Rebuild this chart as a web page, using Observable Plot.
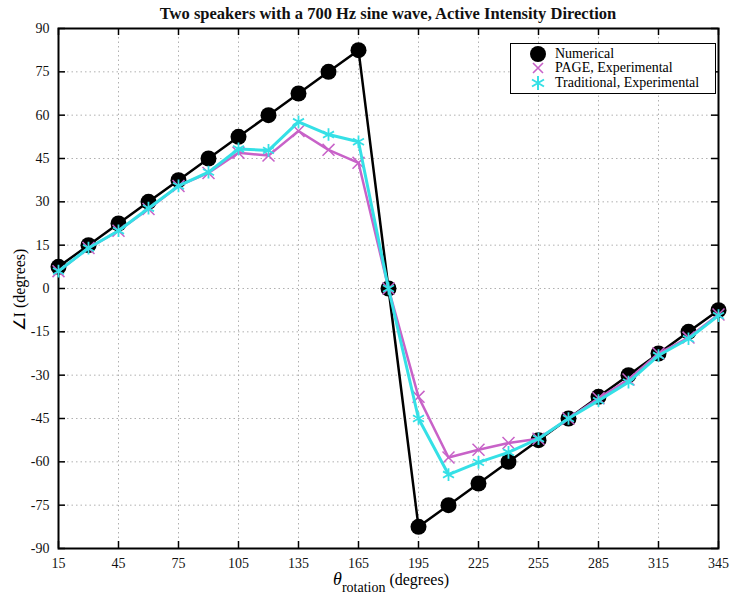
<!DOCTYPE html>
<html><head><meta charset="utf-8">
<script src="https://cdn.jsdelivr.net/npm/d3@7"></script>
<script src="https://cdn.jsdelivr.net/npm/@observablehq/plot@0.6"></script>
<style>
body{margin:0;background:#fff;font-family:"Liberation Serif","Times New Roman",serif;}
#wrap{position:relative;width:730px;height:600px;}
#plot svg text{font-family:"Liberation Serif","Times New Roman",serif !important;font-size:14px !important;fill:#111;}
#title{position:absolute;left:0;top:4px;width:730px;text-align:center;font-weight:bold;font-size:16.5px;color:#111;padding-left:46px;box-sizing:border-box;}
#xlab{position:absolute;left:0;top:569px;width:730px;text-align:center;font-size:16px;padding-left:52px;box-sizing:border-box;line-height:20px;}
#xlab i{font-size:18px;}
#xlab sub{font-size:14px;vertical-align:-7px;line-height:0;}
#ylab{position:absolute;left:19px;top:290px;transform:translate(-50%,-50%) rotate(-90deg);font-size:16px;white-space:nowrap;}
#legend{position:absolute;left:510px;top:43px;width:204px;height:49px;border:1px solid #000;background:#fff;font-size:14px;}
.row{position:absolute;left:0;height:15px;display:flex;align-items:center;}
.row svg{margin-left:18px;margin-right:8px;}
</style></head>
<body>
<div id="wrap">
<div id="plot"></div>
<div id="title">Two speakers with a 700 Hz sine wave, Active Intensity Direction</div>
<div id="xlab"><i>θ</i><sub>rotation</sub> (degrees)</div>
<div id="ylab">∠I (degrees)</div>
<div id="legend"></div>
</div>
<script>
const rotation = [15,30,45,60,75,90,105,120,135,150,165,180,195,210,225,240,255,270,285,300,315,330,345];
const numerical = [7.5,15,22.5,30,37.5,45,52.5,60,67.5,75,82.5,0,-82.5,-75,-67.5,-60,-52.5,-45,-37.5,-30,-22.5,-15,-7.5];
const pageExp = [6,14,20,27.5,35.5,40,47,46,54.5,48,43.5,0,-37.5,-58.5,-55.8,-53.5,-52,-45,-38,-31.5,-22.5,-17,-9];
const tradExp = [6,14,20,27.8,35.5,40.3,48.3,47.8,57.7,53.3,50.8,0,-45,-64.4,-60.2,-56.7,-52,-45,-38.8,-32.4,-23.2,-17.4,-9.4];
const xTicks = [15,45,75,105,135,165,195,225,255,285,315,345];
const yTicks = [-90,-75,-60,-45,-30,-15,0,15,30,45,60,75,90];
const seriesNames = ["Numerical","PAGE, Experimental","Traditional, Experimental"];
const colors = {num:"#000000", page:"#c862c8", trad:"#35e0e6"};

const num = rotation.map((x,i)=>({x, y:numerical[i]}));
const pg = rotation.map((x,i)=>({x, y:pageExp[i]}));
const tr = rotation.map((x,i)=>({x, y:tradExp[i]}));

const W=730,H=600,mt=28,mb=52,ml=58,mr=12;
const fw=W-ml-mr, fh=H-mt-mb, tk=7;
const grid = {stroke:"#b0b0b0", strokeDasharray:"1.5,3", strokeWidth:1};

const chart = Plot.plot({
  width:W, height:H, marginTop:mt, marginBottom:mb, marginLeft:ml, marginRight:mr,
  style:{fontFamily:"Liberation Serif, Times New Roman, serif", fontSize:"14px", color:"#111", background:"#fff", overflow:"visible"},
  x:{domain:[15,345], ticks:xTicks},
  y:{domain:[-90,90], ticks:yTicks},
  marks:[
    Plot.ruleX(xTicks, {x:d=>d, ...grid}),
    Plot.ruleY(yTicks, {y:d=>d, ...grid}),
    Plot.ruleX(xTicks, {x:d=>d, insetTop:fh-tk, stroke:"#000", strokeWidth:1.5}),
    Plot.ruleX(xTicks, {x:d=>d, insetBottom:fh-tk, stroke:"#000", strokeWidth:1.5}),
    Plot.ruleY(yTicks, {y:d=>d, insetRight:fw-tk, stroke:"#000", strokeWidth:1.5}),
    Plot.ruleY(yTicks, {y:d=>d, insetLeft:fw-tk, stroke:"#000", strokeWidth:1.5}),
    Plot.axisX({ticks:xTicks, tickSize:0, tickPadding:10, label:null, tickFormat:d=>String(d), fontSize:14}),
    Plot.axisY({ticks:yTicks, tickSize:0, tickPadding:9, label:null, tickFormat:d=>String(d), fontSize:14}),
    Plot.frame({stroke:"#000", strokeWidth:2}),
    Plot.line(num, {x:"x", y:"y", stroke:colors.num, strokeWidth:2.5}),
    Plot.dot(num, {x:"x", y:"y", r:8, fill:colors.num, stroke:null}),
    Plot.line(pg, {x:"x", y:"y", stroke:colors.page, strokeWidth:2.5}),
    Plot.dot(pg, {x:"x", y:"y", symbol:"times", r:5.5, stroke:colors.page, strokeWidth:1.5}),
    Plot.line(tr, {x:"x", y:"y", stroke:colors.trad, strokeWidth:3}),
    Plot.dot(tr, {x:"x", y:"y", symbol:"asterisk", r:6, stroke:colors.trad, strokeWidth:1.8})
  ]
});
document.getElementById("plot").appendChild(chart);

const markerSvgs = [
  `<svg width="18" height="18" viewBox="-9 -9 18 18"><circle r="8" fill="#000"/></svg>`,
  `<svg width="18" height="18" viewBox="-9 -9 18 18"><path d="M-5,-5L5,5M5,-5L-5,5" stroke="${colors.page}" stroke-width="1.6"/></svg>`,
  `<svg width="18" height="18" viewBox="-9 -9 18 18"><path d="M0,-7V7M-6,-3.5L6,3.5M6,-3.5L-6,3.5" stroke="${colors.trad}" stroke-width="2"/></svg>`
];
const leg = document.getElementById("legend");
seriesNames.forEach((n,i)=>{
  const r = document.createElement("div");
  r.className="row";
  r.style.top = (2 + i*14.5)+"px";
  r.innerHTML = markerSvgs[i] + `<span>${n}</span>`;
  leg.appendChild(r);
});
</script>
</body></html>
